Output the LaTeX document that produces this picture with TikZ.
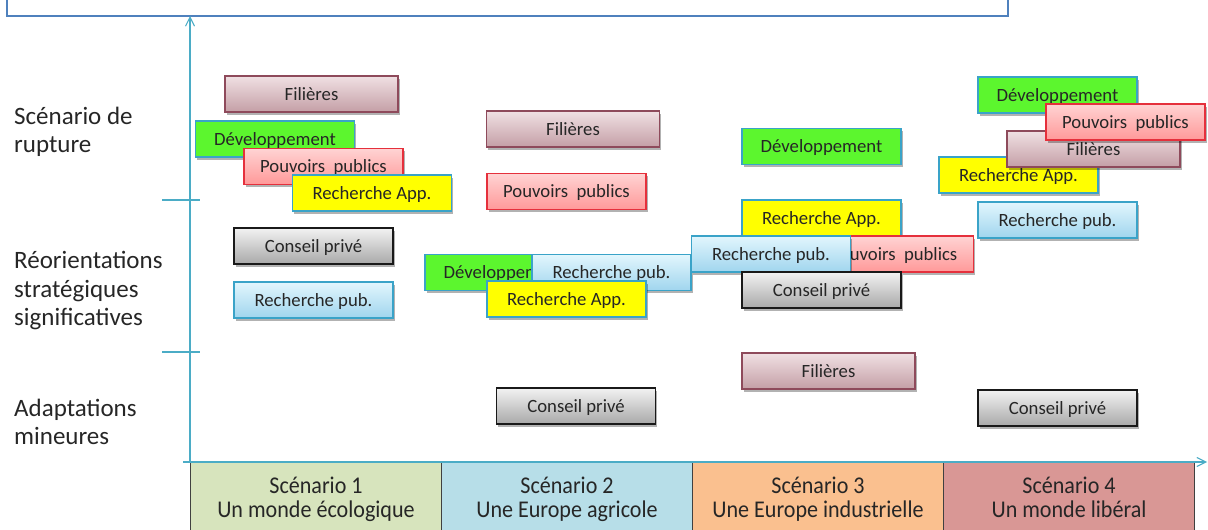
\documentclass[tikz,border=0pt]{standalone}
\usepackage{fontspec}
\setmainfont{Carlito}
\newfontfamily\scenfont[FakeStretch=0.92]{Carlito}
\usetikzlibrary{arrows.meta,shadows}

\definecolor{axisblue}{HTML}{4BACC6}
\definecolor{frameblue}{HTML}{4F81BD}
\definecolor{txt}{HTML}{262626}
\definecolor{filtop}{HTML}{F0E0E3}
\definecolor{filbot}{HTML}{C49FA6}
\definecolor{filline}{HTML}{8E4A5B}
\definecolor{pouvtop}{HTML}{FFD3D3}
\definecolor{pouvbot}{HTML}{FF9999}
\definecolor{pouvline}{HTML}{E5303C}
\definecolor{constop}{HTML}{F2F2F2}
\definecolor{consbot}{HTML}{A9A9A9}
\definecolor{pubtop}{HTML}{E2F6FD}
\definecolor{pubbot}{HTML}{A0D5EE}
\definecolor{devgreen}{HTML}{5CF62E}
\definecolor{appyellow}{HTML}{FFFF00}
\definecolor{boxline}{HTML}{3AA3C8}
\definecolor{sconeA}{HTML}{D7E4BD}
\definecolor{sctwoA}{HTML}{B7DEE8}
\definecolor{scthreeA}{HTML}{FAC08F}
\definecolor{scfourA}{HTML}{D99795}

\begin{document}
\begin{tikzpicture}[x=1pt, y=-1pt]
			\tikzstyle{every node}=[inner sep=0pt, text=txt]
			\tikzstyle{box}=[draw, line width=1.3pt, minimum width=159pt, minimum height=36pt,
				text height=12pt, text depth=0pt, font=\fontsize{18.7}{21}\selectfont,
				drop shadow={shadow xshift=1.5pt, shadow yshift=-2.5pt, opacity=0.3, fill=black}]
			\tikzstyle{fil}=[box, minimum width=173pt, draw=filline, top color=filtop, bottom color=filbot]
			\tikzstyle{pouv}=[box, draw=pouvline, top color=pouvtop, bottom color=pouvbot]
			\tikzstyle{cons}=[box, draw=black!90, top color=constop, bottom color=consbot]
			\tikzstyle{rpub}=[box, draw=boxline, top color=pubtop, bottom color=pubbot]
			\tikzstyle{dev}=[box, draw=boxline, fill=devgreen]
			\tikzstyle{rapp}=[box, draw=boxline, fill=appyellow]
			\tikzstyle{level}=[anchor=west, align=left, font=\fontsize{25}{28.5}\selectfont]
			\tikzstyle{scen}=[draw=black!75, line width=0.8pt, minimum width=251pt, minimum height=68pt]
			\tikzstyle{scentext}=[anchor=north, align=center, font=\scenfont\fontsize{24}{24}\selectfont]
			\tikzstyle{axis}=[draw=axisblue, line width=1.1pt]
				\useasboundingbox (0,0) rectangle (1208,530);

				% frame of the title (cut off at the top)
				\draw[frameblue, line width=1.4pt] (7,0) -- (7,16) -- (1008,16) -- (1008,0);

				% scenarios along the bottom
				\node[scen, fill=sconeA] (sc1) at (316,496) {};
				\node[scen, fill=sctwoA] (sc2) at (567,496) {};
				\node[scen, fill=scthreeA] (sc3) at (818,496) {};
				\node[scen, fill=scfourA] (sc4) at (1069,496) {};
				\node[scentext] (t1) at (316,477) {Scénario 1\\Un monde écologique};
				\node[scentext] (t2) at (567,477) {Scénario 2\\Une Europe agricole};
				\node[scentext] (t3) at (818,477) {Scénario 3\\Une Europe industrielle};
				\node[scentext] (t4) at (1069,477) {Scénario 4\\Un monde libéral};

				% axes
				\coordinate (origin) at (190,462);
				\coordinate (ytop) at (190,16);
				\coordinate (xleft) at (183,462);
				\coordinate (xright) at (1207,462);
				\draw[axis, -{Straight Barb[length=9pt, width=9pt]}] (origin) -- (ytop);
				\draw[axis, -{Straight Barb[length=9pt, width=9pt]}] (xleft) -- (xright);
				\coordinate (ta) at (162,200);
				\coordinate (tb) at (162,352);
				\draw[axis] (ta) -- ++(38,0);
				\draw[axis] (tb) -- ++(38,0);

				% levels
				\node[level] (rupt) at (14,132) {Scénario de\\rupture};
				\node[level] (reor) at (14,291) {Réorientations\\stratégiques\\significatives};
				\node[level] (adap) at (14,422) {Adaptations\\mineures};

				% scenario 1
				\node[fil] (fil1) at (311.5,94) {Filières};
				\node[dev] (dev1) at (275,139) {Développement};
				\node[pouv] (pouv1) at (323.5,166.5) {Pouvoirs~~publics};
				\node[rapp] (rapp1) at (372,193) {Recherche App.};
				\node[cons] (cons1) at (313.5,246) {Conseil privé};
				\node[rpub] (rpub1) at (313.5,300) {Recherche pub.};

				% scenario 2
				\node[fil] (fil2) at (573,129) {Filières};
				\node[pouv] (pouv2) at (566.5,191.5) {Pouvoirs~~publics};
				\node[dev] (dev2) at (504.5,272.5) {Développement};
				\node[rpub] (rpub2) at (611.5,272.5) {Recherche pub.};
				\node[rapp] (rapp2) at (566.5,299) {Recherche App.};
				\node[cons] (cons2) at (576,406) {Conseil privé};

				% scenario 3
				\node[dev] (dev3) at (821.5,146.5) {Développement};
				\node[rapp] (rapp3) at (821.5,218) {Recherche App.};
				\node[pouv] (pouv3) at (894,254) {Pouvoirs~~publics};
				\node[rpub] (rpub3) at (771,254) {Recherche pub.};
				\node[cons] (cons3) at (821.5,290) {Conseil privé};
				\node[fil] (fil3) at (828.5,371) {Filières};

				% scenario 4
				\node[rapp] (rapp4) at (1018.5,175) {Recherche App.};
				\node[dev] (dev4) at (1057.5,95) {Développement};
				\node[fil] (fil4) at (1093.5,149) {Filières};
				\node[pouv] (pouv4) at (1125.5,122) {Pouvoirs~~publics};
				\node[rpub] (rpub4) at (1057.5,220) {Recherche pub.};
				\node[cons] (cons4) at (1057.5,408) {Conseil privé};
			\end{tikzpicture}
\end{document}
